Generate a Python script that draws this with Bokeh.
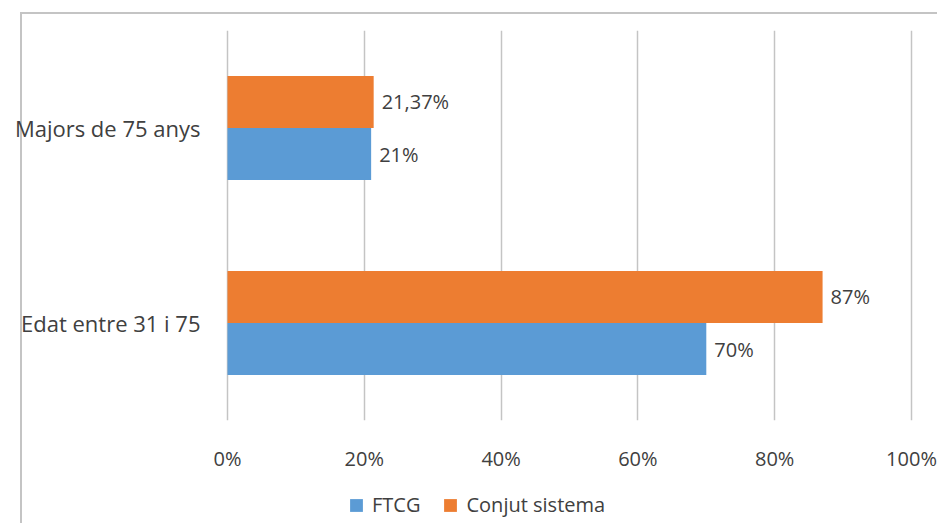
from bokeh.plotting import figure
from bokeh.layouts import column
from bokeh.models import (ColumnDataSource, FactorRange, Range1d, FixedTicker,
                          PrintfTickFormatter, Legend, LegendItem)
from bokeh.transform import dodge
from bokeh.core.properties import value
from bokeh.embed import file_html
from bokeh.resources import INLINE

# ---- data ----
categories = ["Edat entre 31 i 75", "Majors de 75 anys"]
ftcg = [70, 21]
conjunt = [87, 21.37]
series_names = ["FTCG", "Conjut sistema"]
x_ticks = [0, 20, 40, 60, 80, 100]

BLUE = "#5B9BD5"
ORANGE = "#ED7D31"
TXT = "#404040"
GRID = "#C4C4C4"
FONT = "Open Sans"


def fmt(v):
    return f"{v:g}%".replace(".", ",")


src = ColumnDataSource(dict(
    cat=categories,
    ftcg=ftcg,
    conj=conjunt,
    ftcg_lbl=[fmt(v) for v in ftcg],
    conj_lbl=[fmt(v) for v in conjunt],
))

px_per_unit = 6.84
pad = 2 / px_per_unit

W = 937
H_MAIN = 480
H_LEG = 43

p = figure(width=W, height=H_MAIN,
           y_range=FactorRange(factors=categories, range_padding=0),
           x_range=Range1d(-pad, 100 + pad),
           output_backend="svg", toolbar_location=None,
           min_border_left=225, min_border_right=24,
           min_border_top=30, min_border_bottom=60,
           border_fill_color=None, background_fill_color=None)

p.styles = {
    "background-image": "linear-gradient(#C4C4C4, #C4C4C4), linear-gradient(#C4C4C4, #C4C4C4)",
    "background-size": "2px 100%, 100% 2px",
    "background-position": "20px 12px, 20px 12px",
    "background-repeat": "no-repeat",
}

off = 0.1335
bh = 0.267
p.hbar(y=dodge("cat", -off, range=p.y_range), left=0, right="ftcg",
       height=bh, source=src, fill_color=BLUE, line_color=None)
p.hbar(y=dodge("cat", off, range=p.y_range), left=0, right="conj",
       height=bh, source=src, fill_color=ORANGE, line_color=None)

p.text(x="ftcg", y=dodge("cat", -off, range=p.y_range), text="ftcg_lbl",
       source=src, x_offset=8, text_align="left", text_baseline="middle",
       text_font=value(FONT), text_font_size=value("20px"), text_color=TXT)
p.text(x="conj", y=dodge("cat", off, range=p.y_range), text="conj_lbl",
       source=src, x_offset=8, text_align="left", text_baseline="middle",
       text_font=value(FONT), text_font_size=value("20px"), text_color=TXT)

# axes
p.xaxis.ticker = FixedTicker(ticks=x_ticks)
p.xaxis.formatter = PrintfTickFormatter(format="%d%%")
for ax in (p.xaxis, p.yaxis):
    ax.axis_line_color = None
    ax.major_tick_line_color = None
    ax.minor_tick_line_color = None
    ax.major_label_text_font = FONT
    ax.major_label_text_color = TXT
p.xaxis.major_label_text_font_size = "20px"
p.yaxis.major_label_text_font_size = "22px"
p.xaxis.major_label_standoff = 18
p.yaxis.major_label_standoff = 19

p.xgrid.ticker = FixedTicker(ticks=x_ticks)
p.xgrid.grid_line_color = GRID
p.xgrid.grid_line_width = 1.5
p.ygrid.grid_line_color = None
p.outline_line_color = None

# ---- legend strip below the chart ----
# zero-height copies of the series: nothing is drawn, only the legend swatches
lg = figure(width=W, height=H_LEG, x_range=Range1d(-pad, 100 + pad),
            y_range=FactorRange(factors=categories),
            x_axis_type=None, y_axis_type=None,
            output_backend="svg", toolbar_location=None,
            min_border=0, border_fill_color=None, background_fill_color=None,
            outline_line_color=None)
lg.grid.visible = False
lg.styles = {
    "background-image": "linear-gradient(#C4C4C4, #C4C4C4)",
    "background-size": "2px 100%",
    "background-position": "20px 0px",
    "background-repeat": "no-repeat",
}
lb = lg.hbar(y="cat", left=0, right="ftcg", height=0, source=src,
             fill_color=BLUE, line_color=None)
lo = lg.hbar(y="cat", left=0, right="conj", height=0, source=src,
             fill_color=ORANGE, line_color=None)

legend = Legend(items=[LegendItem(label=series_names[0], renderers=[lb]),
                       LegendItem(label=series_names[1], renderers=[lo])],
                orientation="horizontal", location=(123, 5),
                padding=0, margin=0, border_line_color=None,
                background_fill_alpha=0, glyph_width=16, glyph_height=16,
                label_standoff=8, spacing=22, label_height=20,
                label_text_font=FONT, label_text_font_size="20px",
                label_text_color=TXT)
lg.add_layout(legend)

layout = column(p, lg, spacing=0)
open("out.html", "w").write(file_html(layout, INLINE))
